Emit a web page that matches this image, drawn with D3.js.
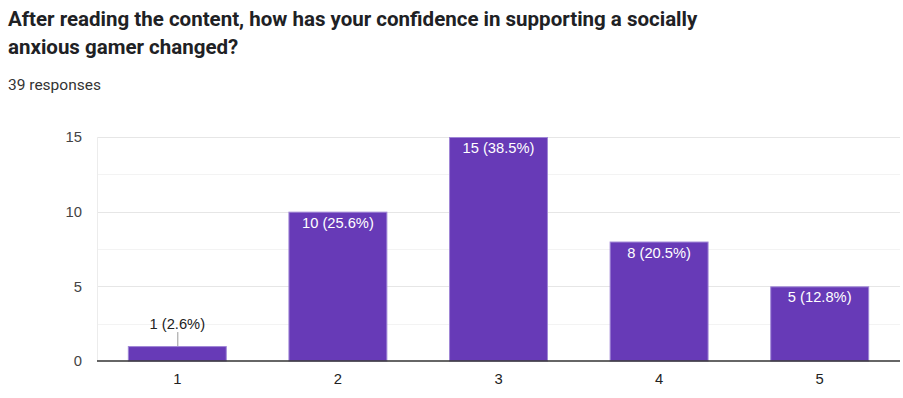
<!DOCTYPE html>
<html>
<head>
<meta charset="utf-8">
<script src="https://cdnjs.cloudflare.com/ajax/libs/d3/7.8.5/d3.min.js"></script>
<style>
  body { margin: 0; background: #fff; }
  svg { display: block; }
</style>
</head>
<body>
<div id="chart"></div>
<script>
// survey answers and counts
const categories = ['1', '2', '3', '4', '5'];
const counts = [1, 10, 15, 8, 5];
const totalResponses = 39;
const yTicks = [0, 5, 10, 15];
const titleLines = [
  'After reading the content, how has your confidence in supporting a socially',
  'anxious gamer changed?'
];

const config = {
  width: 903,
  height: 398,
  plot: { left: 97, right: 900, top: 137, bottom: 361 },
  barColor: '#673ab7'
};

const labelFont = 'Arial, "Liberation Sans", sans-serif';

const svg = d3.select('#chart')
  .append('svg')
  .attr('width', config.width)
  .attr('height', config.height);

// title + subtitle
svg.selectAll('.title')
  .data(titleLines)
  .enter()
  .append('text')
  .attr('class', 'title')
  .attr('x', 8)
  .attr('y', (d, i) => 26 + i * 28)
  .style('font-family', 'Roboto, sans-serif')
  .style('font-weight', 700)
  .style('font-size', '20.5px')
  .style('fill', '#202124')
  .text(d => d);

svg.append('text')
  .attr('x', 8)
  .attr('y', 90)
  .style('font-family', 'Roboto, sans-serif')
  .style('font-size', '15.5px')
  .style('fill', '#333')
  .text(`${totalResponses} responses`);

const x = d3.scaleBand()
  .domain(categories)
  .range([config.plot.left, config.plot.right])
  .paddingInner(0.384)
  .paddingOuter(0.192);

const y = d3.scaleLinear()
  .domain([0, 15])
  .range([config.plot.bottom, config.plot.top]);

// minor gridlines
svg.append('g')
  .selectAll('line')
  .data([2.5, 7.5, 12.5])
  .enter()
  .append('line')
  .attr('x1', config.plot.left)
  .attr('x2', config.plot.right)
  .attr('y1', d => Math.round(y(d)) + 0.5)
  .attr('y2', d => Math.round(y(d)) + 0.5)
  .attr('stroke', '#f3f3f3');

// major gridlines
svg.append('g')
  .selectAll('line')
  .data(yTicks.slice(1))
  .enter()
  .append('line')
  .attr('x1', config.plot.left)
  .attr('x2', config.plot.right)
  .attr('y1', d => Math.round(y(d)) + 0.5)
  .attr('y2', d => Math.round(y(d)) + 0.5)
  .attr('stroke', '#e6e6e6');

// faint left edge
svg.append('line')
  .attr('x1', config.plot.left + 0.5)
  .attr('x2', config.plot.left + 0.5)
  .attr('y1', config.plot.top)
  .attr('y2', config.plot.bottom)
  .attr('stroke', '#ececec');

// y axis labels
const yAxis = d3.axisLeft(y).tickValues(yTicks).tickSize(0).tickPadding(0);
const yg = svg.append('g')
  .attr('transform', `translate(82, 0)`)
  .call(yAxis);
yg.select('.domain').remove();
yg.selectAll('text')
  .style('font-family', labelFont)
  .style('font-size', '14.8px')
  .style('fill', '#444');

// bars
svg.append('g')
  .selectAll('rect')
  .data(counts)
  .enter()
  .append('rect')
  .attr('x', (d, i) => x(categories[i]) + 0.5)
  .attr('y', d => y(d) + 0.5)
  .attr('width', x.bandwidth() - 1)
  .attr('height', d => y(0) - y(d) - 0.5)
  .attr('fill', config.barColor)
  .attr('stroke', '#9f86d6')
  .attr('stroke-width', 1);

// value labels
const labelText = d => `${d} (${(d / totalResponses * 100).toFixed(1)}%)`;
const labels = svg.append('g');
counts.forEach((d, i) => {
  const cx = x(categories[i]) + x.bandwidth() / 2;
  const inside = y(0) - y(d) > 25;
  if (inside) {
    labels.append('text')
      .attr('x', cx)
      .attr('y', y(d) + 16)
      .attr('text-anchor', 'middle')
      .style('font-family', labelFont)
      .style('font-size', '14.7px')
      .style('fill', '#fff')
      .text(labelText(d));
  } else {
    labels.append('line')
      .attr('x1', cx + 0.5)
      .attr('x2', cx + 0.5)
      .attr('y1', y(d))
      .attr('y2', y(d) - 14)
      .attr('stroke', '#999');
    labels.append('text')
      .attr('x', cx)
      .attr('y', y(d) - 17)
      .attr('text-anchor', 'middle')
      .style('font-family', labelFont)
      .style('font-size', '14.7px')
      .style('fill', '#222')
      .text(labelText(d));
  }
});

// baseline
svg.append('line')
  .attr('x1', config.plot.left)
  .attr('x2', config.plot.right)
  .attr('y1', config.plot.bottom)
  .attr('y2', config.plot.bottom)
  .attr('stroke', '#333')
  .attr('stroke-width', 1.5);

// x axis labels
const xAxis = d3.axisBottom(x).tickSize(0).tickPadding(12);
const xg = svg.append('g')
  .attr('transform', `translate(0, ${config.plot.bottom})`)
  .call(xAxis);
xg.select('.domain').remove();
xg.selectAll('text')
  .style('font-family', labelFont)
  .style('font-size', '14.8px')
  .style('fill', '#222');
</script>
</body>
</html>
